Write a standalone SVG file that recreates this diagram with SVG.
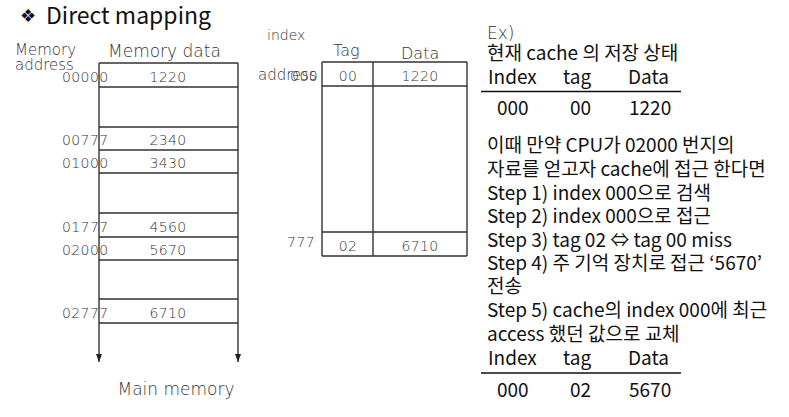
<svg xmlns="http://www.w3.org/2000/svg" width="789" height="417" viewBox="0 0 789 417">
<style>
.thin{font-family:"DejaVu Sans","Liberation Sans",sans-serif;font-weight:200;fill:#333}
.kr{font-family:"Noto Sans CJK KR","Noto Sans",sans-serif;font-size:19px;fill:#111}
.d14{font-size:14px;letter-spacing:0.4px}
.mid{text-anchor:middle}
.end{text-anchor:end}
.ln{stroke:#333;stroke-width:1.4;fill:none}
.ul{stroke:#111;stroke-width:1.6}
</style>
<defs>
<marker id="down" viewBox="0 0 6 8" refX="3" refY="8" markerWidth="6" markerHeight="8" markerUnits="userSpaceOnUse" orient="0">
<path d="M0,0 L6,0 L3,8 Z" fill="#222"/>
</marker>
</defs>
<rect width="789" height="417" fill="#fff"/>

<g id="title">
<text x="20" y="22" font-family="DejaVu Sans,sans-serif" font-size="18" fill="#111">❖</text>
<text x="46" y="24" font-family="Noto Sans CJK KR,Noto Sans,sans-serif" font-size="23" fill="#111">Direct mapping</text>
</g>

<g id="main-memory">
<text class="thin" x="15" y="55" font-size="15">Memory</text>
<text class="thin" x="15" y="70" font-size="15">address</text>
<text class="thin" x="108" y="57" font-size="17">Memory data</text>
<path class="ln" d="M99,63H238M99,87H238M99,127H238M99,150H238M99,173H238M99,213H238M99,237H238M99,260H238M99,299H238M99,323H238"/>
<g class="thin d14">
<text x="62" y="82">00000</text>
<text x="62" y="145">00777</text>
<text x="62" y="168">01000</text>
<text x="62" y="232">01777</text>
<text x="62" y="255">02000</text>
<text x="62" y="318">02777</text>
</g>
<g class="thin d14 mid">
<text x="168" y="82">1220</text>
<text x="168" y="145">2340</text>
<text x="168" y="168">3430</text>
<text x="168" y="232">4560</text>
<text x="168" y="255">5670</text>
<text x="168" y="318">6710</text>
</g>
<text class="thin mid" x="176" y="395" font-size="17">Main memory</text>
</g>

<g id="connectors">
<line class="ln" x1="99" y1="63" x2="99" y2="362" marker-end="url(#down)"/>
<line class="ln" x1="238" y1="63" x2="238" y2="362" marker-end="url(#down)"/>
</g>

<g id="cache">
<text class="thin" x="267" y="40" font-size="14">index</text>
<text class="thin" x="333" y="56" font-size="16">Tag</text>
<text class="thin" x="401" y="59" font-size="16">Data</text>
<text class="thin" x="258" y="80" font-size="15">address</text>
<text class="thin d14 end" x="318" y="81">000</text>
<text class="thin d14 end" x="315" y="247">777</text>
<path class="ln" d="M322,62H467M322,86H467M322,232H467M322,256H467M322,62V256M373,62V256M467,62V256"/>
<g class="thin d14 mid">
<text x="348" y="81">00</text>
<text x="420" y="81">1220</text>
<text x="348" y="251">02</text>
<text x="420" y="251">6710</text>
</g>
</g>

<g id="example">
<text class="thin" x="487" y="39" font-size="17">Ex)</text>
<text class="kr" x="487" y="60">현재 cache 의 저장 상태</text>
<text class="kr" x="488" y="84">Index</text>
<text class="kr" x="563" y="84">tag</text>
<text class="kr" x="628" y="84">Data</text>
<line class="ul" x1="481" y1="91.5" x2="681" y2="91.5"/>
<text class="kr" x="497" y="115">000</text>
<text class="kr" x="570" y="115">00</text>
<text class="kr" x="629" y="115">1220</text>
<text class="kr" x="487" y="152">이때 만약 CPU가 02000 번지의</text>
<text class="kr" x="487" y="176">자료를 얻고자 cache에 접근 한다면</text>
<text class="kr" x="487" y="200">Step 1) index 000으로 검색</text>
<text class="kr" x="487" y="223">Step 2) index 000으로 접근</text>
<text class="kr" x="487" y="247">Step 3) tag 02 ⇔ tag 00 miss</text>
<text class="kr" x="487" y="270">Step 4) 주 기억 장치로 접근 ‘5670’</text>
<text class="kr" x="487" y="293">전송</text>
<text class="kr" x="487" y="317">Step 5) cache의 index 000에 최근</text>
<text class="kr" x="487" y="341">access 했던 값으로 교체</text>
<text class="kr" x="488" y="365">Index</text>
<text class="kr" x="563" y="365">tag</text>
<text class="kr" x="628" y="365">Data</text>
<line class="ul" x1="481" y1="373" x2="681" y2="373"/>
<text class="kr" x="497" y="397">000</text>
<text class="kr" x="570" y="397">02</text>
<text class="kr" x="629" y="397">5670</text>
</g>
</svg>
